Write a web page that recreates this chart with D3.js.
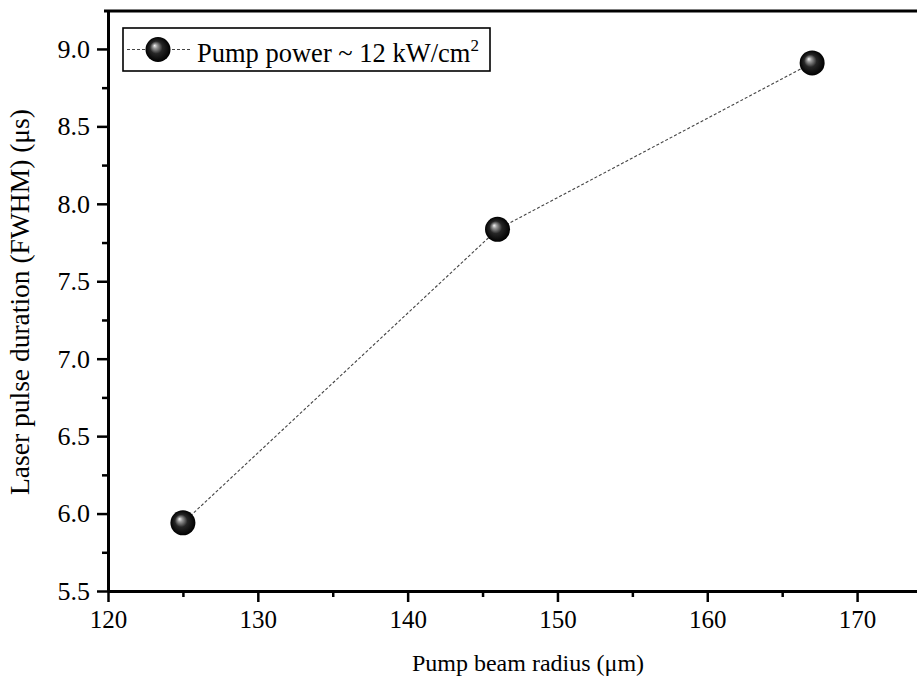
<!DOCTYPE html>
<html><head><meta charset="utf-8">
<script src="https://cdn.jsdelivr.net/npm/d3@7"></script>
<style>html,body{margin:0;padding:0;background:#fff;} svg{display:block;}</style>
</head><body>
<script>
const radius = [125, 146, 167];
const duration = [5.94, 7.835, 8.91];
const xTicks = [120, 130, 140, 150, 160, 170];
const yTicks = [5.5, 6.0, 6.5, 7.0, 7.5, 8.0, 8.5, 9.0];
const xMinor = [125, 135, 145, 155, 165, 175];
const yMinor = [5.75, 6.25, 6.75, 7.25, 7.75, 8.25, 8.75];
const legendLabel = "Pump power ~ 12 kW/cm";
const xTitle = "Pump beam radius (\u03bcm)";
const yTitle = "Laser pulse duration (FWHM) (\u03bcs)";

const W = 917, H = 686;
const L = 108, T = 11, B = 591, R = 932;
const x = d3.scaleLinear().domain([120, 175]).range([L, R]);
const y = d3.scaleLinear().domain([5.5, 9.245]).range([B, T]);
const font = "'Liberation Serif','Times New Roman',serif";

const svg = d3.select("body").append("svg").attr("width", W).attr("height", H);
const defs = svg.append("defs");
const g = defs.append("radialGradient").attr("id", "ball")
  .attr("cx", "0.5").attr("cy", "0.5").attr("r", "0.5")
  .attr("fx", "0.36").attr("fy", "0.34");
g.append("stop").attr("offset", "0%").attr("stop-color", "#f4f4f4");
g.append("stop").attr("offset", "18%").attr("stop-color", "#9a9a9a");
g.append("stop").attr("offset", "50%").attr("stop-color", "#262626");
g.append("stop").attr("offset", "100%").attr("stop-color", "#000");

// data line
const pts = radius.map((r, i) => [r, duration[i]]);
svg.append("path").datum(pts)
  .attr("d", d3.line().x(d => x(d[0])).y(d => y(d[1])))
  .attr("fill", "none").attr("stroke", "#444").attr("stroke-width", 1.1)
  .attr("stroke-dasharray", "3,2");

svg.selectAll("circle.pt").data(pts).join("circle").attr("class", "pt")
  .attr("cx", d => x(d[0])).attr("cy", d => y(d[1])).attr("r", 12.5)
  .attr("fill", "url(#ball)");

// axes
const xAxis = d3.axisBottom(x).tickValues(xTicks).tickFormat(d3.format("d")).tickSizeInner(11).tickSizeOuter(0).tickPadding(8);
const xa = svg.append("g").attr("transform", `translate(0,${B})`).call(xAxis);
xa.select(".domain").attr("stroke-width", 3);
xa.selectAll(".tick line").attr("stroke-width", 2.5);
xa.selectAll(".tick text").style("font-family", font).style("font-size", "25px").attr("fill", "#000");
const xm = d3.axisBottom(x).tickValues(xMinor).tickFormat("").tickSizeInner(6).tickSizeOuter(0);
const xma = svg.append("g").attr("transform", `translate(0,${B})`).call(xm);
xma.select(".domain").remove();
xma.selectAll(".tick line").attr("stroke-width", 2.5);

const yAxis = d3.axisLeft(y).tickValues(yTicks).tickFormat(d3.format(".1f")).tickSizeInner(11).tickSizeOuter(0).tickPadding(7);
const ya = svg.append("g").attr("transform", `translate(${L},0)`).call(yAxis);
ya.select(".domain").attr("stroke-width", 3);
ya.selectAll(".tick line").attr("stroke-width", 2.5);
ya.selectAll(".tick text").style("font-family", font).style("font-size", "26px").attr("fill", "#000");
const ym = d3.axisLeft(y).tickValues(yMinor).tickFormat("").tickSizeInner(6).tickSizeOuter(0);
const yma = svg.append("g").attr("transform", `translate(${L},0)`).call(ym);
yma.select(".domain").remove();
yma.selectAll(".tick line").attr("stroke-width", 2.5);

// top frame line
svg.append("line").attr("x1", L - 4).attr("x2", W).attr("y1", T).attr("y2", T)
  .attr("stroke", "#000").attr("stroke-width", 3);

// titles
svg.append("text").attr("x", 528).attr("y", 671).attr("text-anchor", "middle")
  .style("font-family", font).style("font-size", "24px").text(xTitle);
svg.append("text").attr("transform", `translate(29,302) rotate(-90)`).attr("text-anchor", "middle")
  .style("font-family", font).style("font-size", "27.5px").text(yTitle);

// legend
const lg = svg.append("g");
lg.append("rect").attr("x", 123).attr("y", 28).attr("width", 367).attr("height", 43)
  .attr("fill", "#fff").attr("stroke", "#000").attr("stroke-width", 1.6);
lg.append("line").attr("x1", 127).attr("x2", 190).attr("y1", 49.5).attr("y2", 49.5)
  .attr("stroke", "#444").attr("stroke-width", 1.1).attr("stroke-dasharray", "3,2");
lg.append("circle").attr("cx", 158).attr("cy", 49.5).attr("r", 12.5).attr("fill", "url(#ball)");
const lt = lg.append("text").attr("x", 197).attr("y", 62).style("font-family", font).style("font-size", "26.5px");
lt.append("tspan").text(legendLabel);
lt.append("tspan").attr("dy", -11).style("font-size", "17px").text("2");
</script>
</body></html>
